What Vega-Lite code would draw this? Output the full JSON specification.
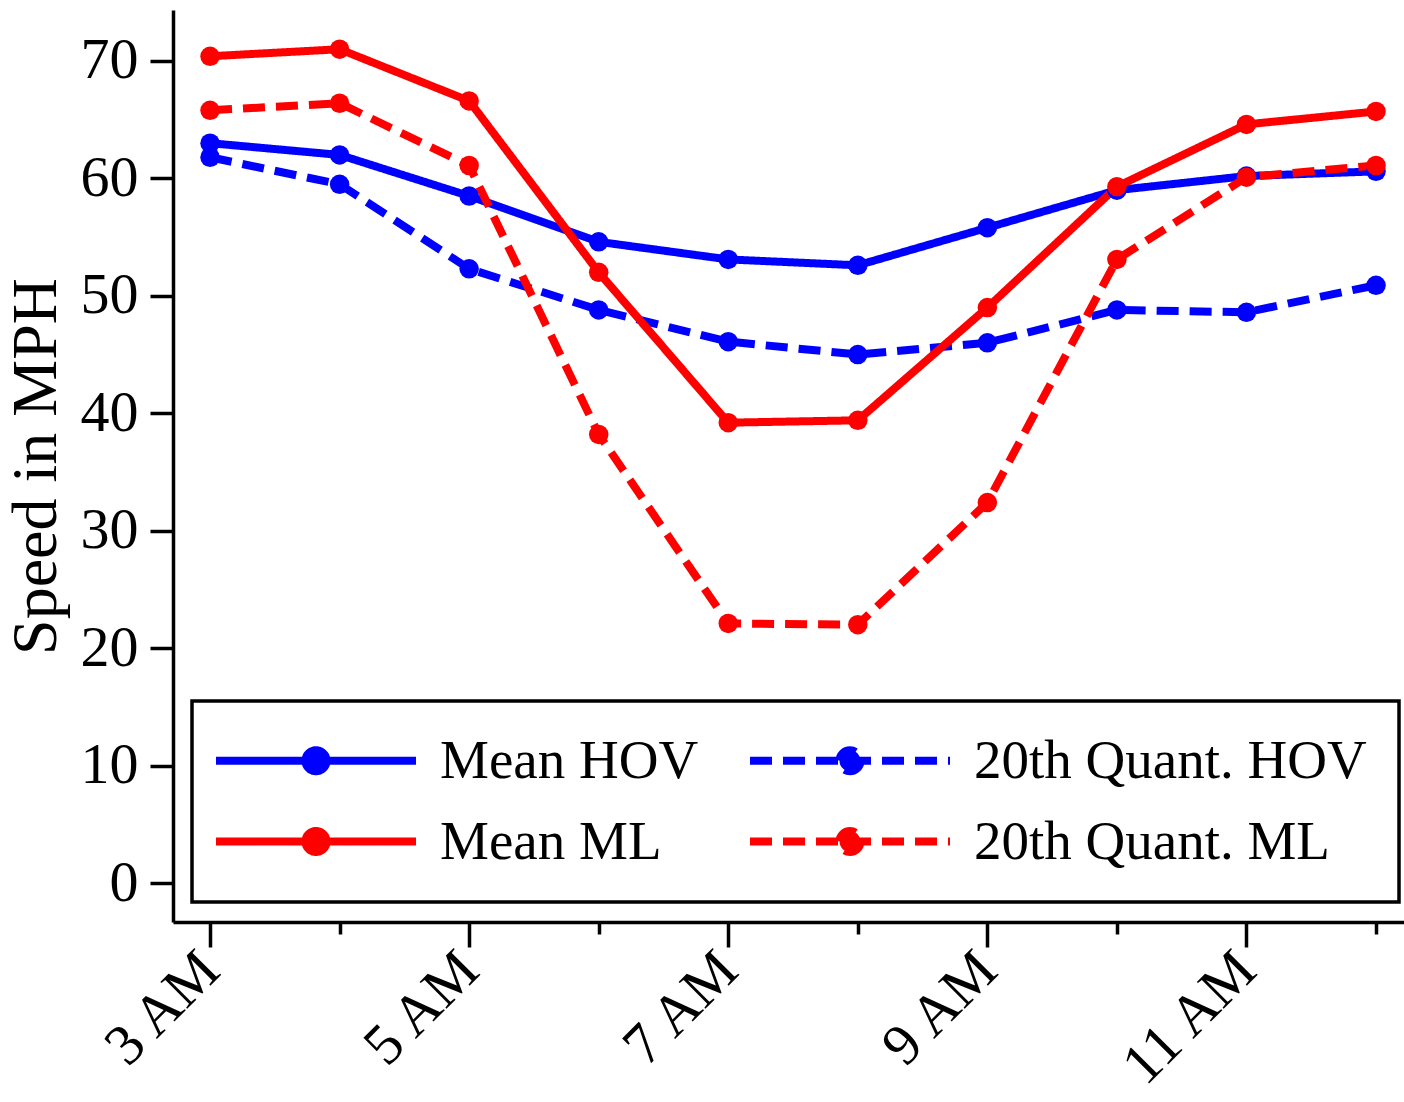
{
  "$schema": "https://vega.github.io/schema/vega-lite/v6.json",
  "width": 1231,
  "height": 912,
  "autosize": {"type": "none"},
  "padding": {"left": 173, "top": 10, "right": 0, "bottom": 180},
  "background": "white",
  "config": {
    "view": {"stroke": null},
    "font": "Liberation Serif",
    "axis": {
      "domainColor": "black", "domainWidth": 3.5, "tickColor": "black", "tickWidth": 3.5,
      "labelFont": "Liberation Serif", "labelColor": "black", "labelFontSize": 58,
      "titleFont": "Liberation Serif", "titleColor": "black", "titleFontWeight": "normal",
      "grid": false
    }
  },
  "data": {
    "values": [
      {"hour": 3, "series": "Mean HOV", "speed": 63.0},
      {"hour": 4, "series": "Mean HOV", "speed": 62.0},
      {"hour": 5, "series": "Mean HOV", "speed": 58.5},
      {"hour": 6, "series": "Mean HOV", "speed": 54.6},
      {"hour": 7, "series": "Mean HOV", "speed": 53.1},
      {"hour": 8, "series": "Mean HOV", "speed": 52.6},
      {"hour": 9, "series": "Mean HOV", "speed": 55.8},
      {"hour": 10, "series": "Mean HOV", "speed": 59.0},
      {"hour": 11, "series": "Mean HOV", "speed": 60.2},
      {"hour": 12, "series": "Mean HOV", "speed": 60.6},
      {"hour": 3, "series": "20th Quant. HOV", "speed": 61.8},
      {"hour": 4, "series": "20th Quant. HOV", "speed": 59.5},
      {"hour": 5, "series": "20th Quant. HOV", "speed": 52.3},
      {"hour": 6, "series": "20th Quant. HOV", "speed": 48.8},
      {"hour": 7, "series": "20th Quant. HOV", "speed": 46.1},
      {"hour": 8, "series": "20th Quant. HOV", "speed": 45.0},
      {"hour": 9, "series": "20th Quant. HOV", "speed": 46.0},
      {"hour": 10, "series": "20th Quant. HOV", "speed": 48.8},
      {"hour": 11, "series": "20th Quant. HOV", "speed": 48.6},
      {"hour": 12, "series": "20th Quant. HOV", "speed": 50.9},
      {"hour": 3, "series": "Mean ML", "speed": 70.4},
      {"hour": 4, "series": "Mean ML", "speed": 71.0},
      {"hour": 5, "series": "Mean ML", "speed": 66.6},
      {"hour": 6, "series": "Mean ML", "speed": 52.0},
      {"hour": 7, "series": "Mean ML", "speed": 39.2},
      {"hour": 8, "series": "Mean ML", "speed": 39.4},
      {"hour": 9, "series": "Mean ML", "speed": 49.0},
      {"hour": 10, "series": "Mean ML", "speed": 59.3},
      {"hour": 11, "series": "Mean ML", "speed": 64.6},
      {"hour": 12, "series": "Mean ML", "speed": 65.7},
      {"hour": 3, "series": "20th Quant. ML", "speed": 65.8},
      {"hour": 4, "series": "20th Quant. ML", "speed": 66.4},
      {"hour": 5, "series": "20th Quant. ML", "speed": 61.1},
      {"hour": 6, "series": "20th Quant. ML", "speed": 38.2},
      {"hour": 7, "series": "20th Quant. ML", "speed": 22.1},
      {"hour": 8, "series": "20th Quant. ML", "speed": 22.0},
      {"hour": 9, "series": "20th Quant. ML", "speed": 32.4},
      {"hour": 10, "series": "20th Quant. ML", "speed": 53.1},
      {"hour": 11, "series": "20th Quant. ML", "speed": 60.1},
      {"hour": 12, "series": "20th Quant. ML", "speed": 61.1}
    ]
  },
  "encoding": {
    "x": {
      "field": "hour", "type": "quantitative",
      "scale": {"domain": [2.714, 12.216], "nice": false, "zero": false},
      "axis": {
        "title": null,
        "values": [3, 4, 5, 6, 7, 8, 9, 10, 11, 12],
        "tickSize": {"condition": {"test": "datum.value % 2 == 0", "value": 12}, "value": 25},
        "labelExpr": "datum.value % 2 == 1 ? datum.value + ' AM' : ''",
        "labelAngle": -45, "labelAlign": "right", "labelBaseline": "middle",
        "labelPadding": 14, "labelOverlap": false, "labelFlush": false, "labelBound": false
      }
    },
    "y": {
      "field": "speed", "type": "quantitative",
      "scale": {"domain": [-3.32, 74.34], "nice": false, "zero": false},
      "axis": {
        "title": "Speed in MPH", "titleFontSize": 64, "titlePadding": 12,
        "values": [0, 10, 20, 30, 40, 50, 60, 70],
        "tickSize": 23, "labelPadding": 12
      }
    },
    "color": {
      "field": "series", "type": "nominal",
      "scale": {
        "domain": ["Mean HOV", "20th Quant. HOV", "Mean ML", "20th Quant. ML"],
        "range": ["#0000ff", "#0000ff", "#ff0000", "#ff0000"]
      },
      "legend": {
        "title": null, "orient": "none", "legendX": 19, "legendY": 691, "direction": "horizontal",
        "columns": 2, "columnPadding": 34, "rowPadding": 25, "padding": 32,
        "strokeColor": "black",
        "symbolType": "M-2.367,0H10.967M5.0,0A0.7,0.7,0,1,1,3.6,0A0.7,0.7,0,1,1,5.0,0Z",
        "symbolSize": 900, "symbolStrokeWidth": 8, "symbolOpacity": 1,
        "labelFont": "Liberation Serif", "labelFontSize": 55, "labelColor": "black",
        "labelOffset": 161, "labelLimit": 0,
        "encode": {
          "legend": {"update": {"strokeWidth": {"value": 3.5}}},
          "symbols": {"update": {"fill": {"scale": "color", "field": "value"}, "fillOpacity": {"value": 1}}}
        }
      }
    }
  },
  "layer": [
    {
      "mark": {"type": "line", "strokeWidth": 8},
      "encoding": {
        "strokeDash": {
          "field": "series", "type": "nominal",
          "scale": {
            "domain": ["Mean HOV", "20th Quant. HOV", "Mean ML", "20th Quant. ML"],
            "range": [[1, 0], [22, 11], [1, 0], [22, 11]]
          },
          "legend": {
            "title": null, "orient": "none", "legendX": 19, "legendY": 691, "direction": "horizontal",
            "columns": 2, "columnPadding": 34, "rowPadding": 25, "padding": 32,
            "strokeColor": "black",
            "symbolType": "M-2.367,0H10.967M5.0,0A0.7,0.7,0,1,1,3.6,0A0.7,0.7,0,1,1,5.0,0Z",
            "symbolSize": 900, "symbolStrokeWidth": 8, "symbolOpacity": 1,
            "labelFont": "Liberation Serif", "labelFontSize": 55, "labelColor": "black",
            "labelOffset": 161, "labelLimit": 0
          }
        }
      }
    },
    {
      "mark": {"type": "point", "filled": true, "size": 380, "opacity": 1}
    }
  ]
}
